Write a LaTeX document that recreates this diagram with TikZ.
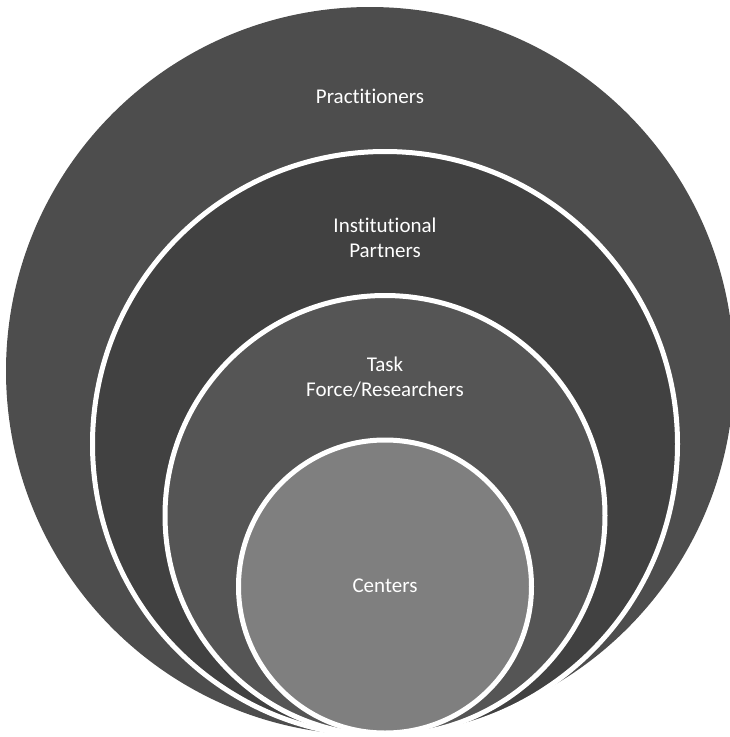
\documentclass[tikz,border=0pt]{standalone}
\usepackage{fontspec}
\setmainfont[RawFeature={-liga}]{Carlito}
\definecolor{cone}{HTML}{4D4D4D}
\definecolor{ctwo}{HTML}{414141}
\definecolor{cthree}{HTML}{555555}
\definecolor{cfour}{HTML}{7F7F7F}
\begin{document}
\begin{tikzpicture}[x=1pt,y=1pt,
  ring/.style={circle, draw=white, line width=5pt, inner sep=0pt, outer sep=0pt},
  lbl/.style={text=white, font=\fontsize{21}{24.5}\selectfont, align=center, inner sep=0pt}]
\useasboundingbox (0,0) rectangle (730,-737);
\node[ring, fill=cone, draw=none, minimum size=728] (c1) at (370,-371) {};
\node[ring, fill=ctwo, minimum size=585] (c2) at (385,-444) {};
\node[ring, fill=cthree, minimum size=440] (c3) at (385,-515.5) {};
\node[ring, fill=cfour, minimum size=293] (c4) at (385,-586.5) {};
\node[lbl] (t1) at (370,-96) {Practitioners};
\node[lbl] (t2) at (385,-238) {Institutional\\Partners};
\node[lbl] (t3) at (385,-377) {Task\\Force/Researchers};
\node[lbl] (t4) at (385,-586) {Centers};
\end{tikzpicture}
\end{document}
